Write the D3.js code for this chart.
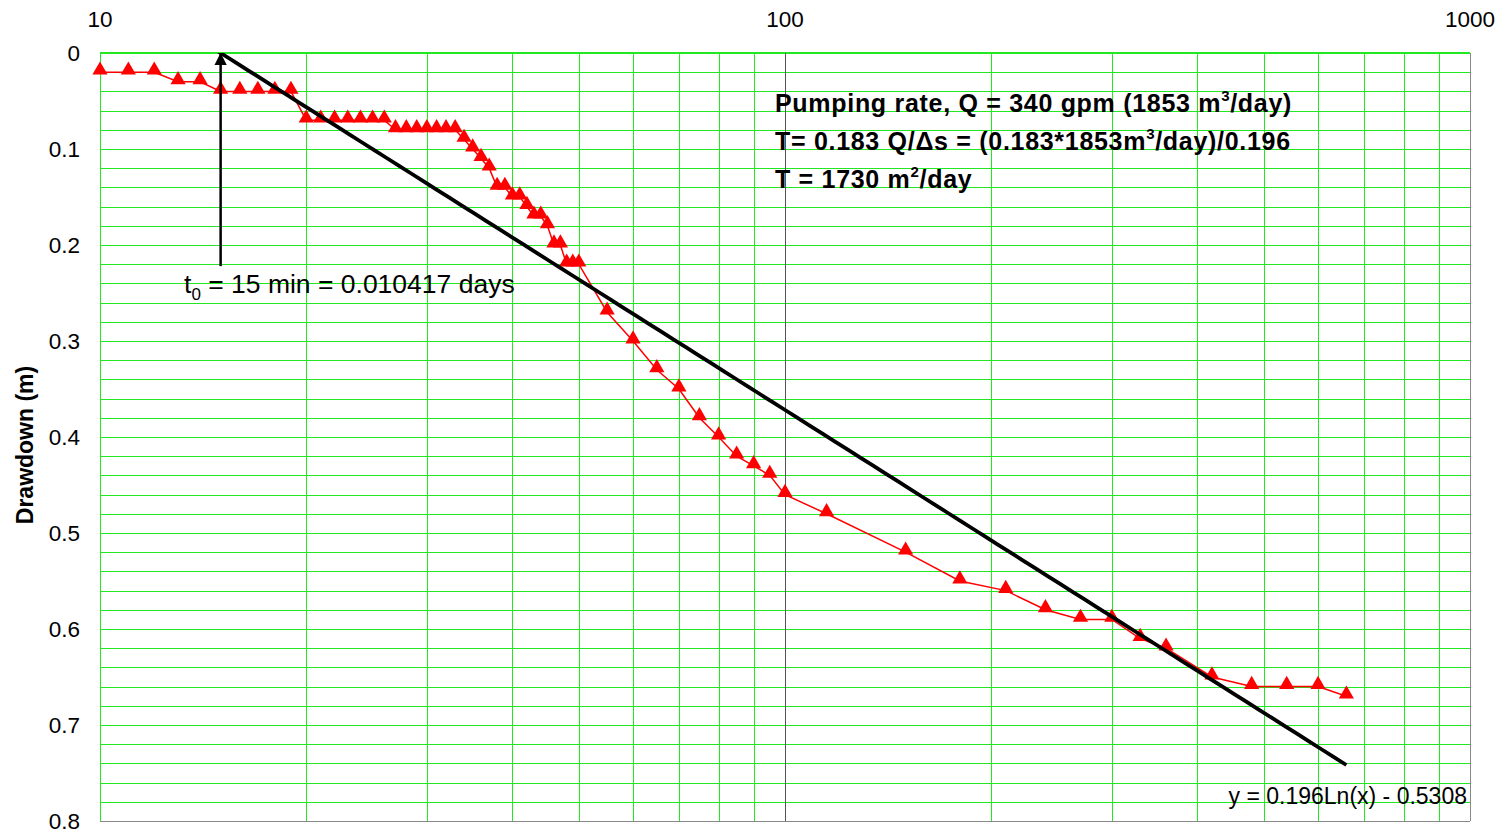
<!DOCTYPE html>
<meta charset="utf-8">
<style>
body { margin: 0; background: #fff; }
text { font-family: Arial, "Liberation Sans", sans-serif; fill: #000; }
.grid line { stroke: #22e822; stroke-width: 1px; shape-rendering: crispEdges; }
.major { stroke: #555; stroke-width: 1px; shape-rendering: crispEdges; }
.data-line { fill: none; stroke: #ff0000; stroke-width: 1.5px; }
.trend { fill: none; stroke: #000; stroke-width: 3.8px; }
</style>
<body>
<script src="https://d3js.org/d3.v7.min.js"></script>
<script>

// time since pumping started (minutes) and drawdown (m)
var minutes = [10, 11, 12, 13, 14, 15, 16, 17, 18, 19,
               20, 21, 22, 23, 24, 25, 26,
               27, 28, 29, 30, 31, 32, 33,
               34, 35, 36, 37, 38, 39, 40, 41, 42, 43, 44, 45, 46, 47, 48, 49, 50,
               55, 60, 65, 70, 75, 80, 85, 90, 95, 100, 115, 150, 180, 210, 240,
               270, 300, 330, 360, 420, 480, 540, 600, 660];
var drawdown = [0.02, 0.02, 0.02, 0.03, 0.03, 0.04, 0.04, 0.04, 0.04, 0.04,
                0.07, 0.07, 0.07, 0.07, 0.07, 0.07, 0.07,
                0.08, 0.08, 0.08, 0.08, 0.08, 0.08, 0.08,
                0.09, 0.10, 0.11, 0.12, 0.14, 0.14, 0.15, 0.15, 0.16, 0.17, 0.17, 0.18, 0.20, 0.20, 0.22, 0.22, 0.22,
                0.27, 0.30, 0.33, 0.35, 0.38, 0.40, 0.42, 0.43, 0.44, 0.46, 0.48, 0.52, 0.55, 0.56, 0.58,
                0.59, 0.59, 0.61, 0.62, 0.65, 0.66, 0.66, 0.66, 0.67];

var xTicks = [10, 100, 1000];
var yTicks = [0, 0.1, 0.2, 0.3, 0.4, 0.5, 0.6, 0.7, 0.8];

// fitted line y = 0.196 ln(x) - 0.5308
var slope = 0.196, intercept = -0.5308;
var t0 = 15;

var margin = {top: 53, right: 39, bottom: 12, left: 100},
    width = 1509 - margin.left - margin.right,
    height = 833 - margin.top - margin.bottom;

var x = d3.scaleLog().domain([10, 1000]).range([0, width]);
var y = d3.scaleLinear().domain([0, 0.8]).range([0, height]);

var svg = d3.select("body").append("svg")
    .attr("width", 1509)
    .attr("height", 833)
  .append("g")
    .attr("transform", "translate(" + margin.left + "," + margin.top + ")");

svg.append("clipPath").attr("id", "plot")
  .append("rect").attr("width", width).attr("height", height);

// minor gridlines
var xMinor = [];
[10, 100].forEach(function(d) { for (var k = 2; k <= 9; k++) xMinor.push(d * k); });
var yMinor = d3.range(0, 0.8001, 0.02);

var grid = svg.append("g").attr("class", "grid");
grid.selectAll(".h").data(yMinor).enter().append("line")
    .attr("x1", 0).attr("x2", width)
    .attr("y1", function(d) { return Math.round(y(d)) + 0.5; })
    .attr("y2", function(d) { return Math.round(y(d)) + 0.5; });
grid.selectAll(".v").data(xMinor).enter().append("line")
    .attr("y1", 0).attr("y2", height)
    .attr("x1", function(d) { return Math.round(x(d)) + 0.5; })
    .attr("x2", function(d) { return Math.round(x(d)) + 0.5; });
grid.append("line").attr("x1", 0.5).attr("x2", 0.5).attr("y1", 0).attr("y2", height);
grid.append("line").attr("x1", 0).attr("x2", width).attr("y1", 0).attr("y2", 0)
    .style("stroke-width", "2px");

// major vertical line at 100 and frame
svg.append("line").attr("class", "major")
    .attr("x1", Math.round(x(100)) + 0.5).attr("x2", Math.round(x(100)) + 0.5)
    .attr("y1", 0).attr("y2", height);
svg.append("line").attr("class", "major")
    .attr("x1", width + 0.5).attr("x2", width + 0.5).attr("y1", 0).attr("y2", height)
    .style("stroke", "#888");
svg.append("line").attr("class", "major")
    .attr("x1", 0).attr("x2", width).attr("y1", height + 0.5).attr("y2", height + 0.5)
    .style("stroke", "#888");

// axes labels
svg.selectAll(".xlab").data(xTicks).enter().append("text")
    .attr("x", function(d) { return x(d); })
    .attr("y", -26)
    .attr("text-anchor", "middle")
    .style("font-size", "22.5px")
    .text(function(d) { return d; });

svg.selectAll(".ylab").data(yTicks).enter().append("text")
    .attr("x", -20)
    .attr("y", function(d) { return y(d); })
    .attr("dy", "0.35em")
    .attr("text-anchor", "end")
    .style("font-size", "22.5px")
    .text(function(d) { return d; });

svg.append("text")
    .attr("transform", "rotate(-90)")
    .attr("x", -height / 2 - 8)
    .attr("y", -67)
    .attr("text-anchor", "middle")
    .style("font-size", "23px")
    .style("font-weight", "bold")
    .text("Drawdown (m)");

// trend line, clipped at the top of the plot like the original
var trendData = d3.range(0, 101).map(function(i) {
  var lx = Math.log10(minutes[0]) + i / 100 * (Math.log10(minutes[minutes.length - 1]) - Math.log10(minutes[0]));
  var xv = Math.pow(10, lx);
  return [xv, slope * Math.log(xv) + intercept];
});

var pts = minutes.map(function(d, i) { return [d, drawdown[i]]; });

var line = d3.line()
    .x(function(d) { return x(d[0]); })
    .y(function(d) { return y(d[1]); });

svg.append("path")
    .datum(pts)
    .attr("class", "data-line")
    .attr("d", line);

svg.selectAll(".mark").data(pts).enter().append("path")
    .attr("d", d3.symbol().type(d3.symbolTriangle).size(100))
    .attr("transform", function(d) { return "translate(" + x(d[0]) + "," + (y(d[1]) - 2) + ")"; })
    .style("fill", "#ff0000");

svg.append("path")
    .datum(trendData)
    .attr("class", "trend")
    .attr("clip-path", "url(#plot)")
    .attr("d", line);

// arrow marking t0
svg.append("defs").append("marker")
    .attr("id", "arrow")
    .attr("viewBox", "0 0 10 10")
    .attr("refX", 9).attr("refY", 5)
    .attr("markerWidth", 5).attr("markerHeight", 5)
    .attr("orient", "auto")
  .append("path").attr("d", "M0,0L10,5L0,10z").style("fill", "#000");

svg.append("line")
    .attr("x1", x(t0)).attr("x2", x(t0))
    .attr("y1", y(0.222)).attr("y2", y(0) + 1)
    .style("stroke", "#000").style("stroke-width", "2.5px")
    .attr("marker-end", "url(#arrow)");

var t0Label = svg.append("text")
    .attr("x", 84).attr("y", 240)
    .style("font-size", "26.5px");
t0Label.append("tspan").text("t");
t0Label.append("tspan").attr("dy", 7).style("font-size", "17px").text("0");
t0Label.append("tspan").attr("dy", -7).text(" = 15 min = 0.010417 days");

// annotation block
var note = svg.append("g").attr("transform", "translate(675,0)")
    .style("font-size", "25px").style("font-weight", "bold")
    .style("letter-spacing", "0.7px");

var l1 = note.append("text").attr("y", 59);
l1.append("tspan").text("Pumping rate, Q = 340 gpm (1853 m");
l1.append("tspan").attr("dy", -11).style("font-size", "15px").text("3");
l1.append("tspan").attr("dy", 11).text("/day)");

var l2 = note.append("text").attr("y", 97);
l2.append("tspan").text("T= 0.183 Q/\u0394s = (0.183*1853m");
l2.append("tspan").attr("dy", -11).style("font-size", "15px").text("3");
l2.append("tspan").attr("dy", 11).text("/day)/0.196");

var l3 = note.append("text").attr("y", 135);
l3.append("tspan").text("T = 1730 m");
l3.append("tspan").attr("dy", -11).style("font-size", "15px").text("2");
l3.append("tspan").attr("dy", 11).text("/day");

svg.append("text")
    .attr("x", width - 3)
    .attr("y", height - 17)
    .attr("text-anchor", "end")
    .style("font-size", "23px")
    .text("y = 0.196Ln(x) - 0.5308");

</script>
</body>
